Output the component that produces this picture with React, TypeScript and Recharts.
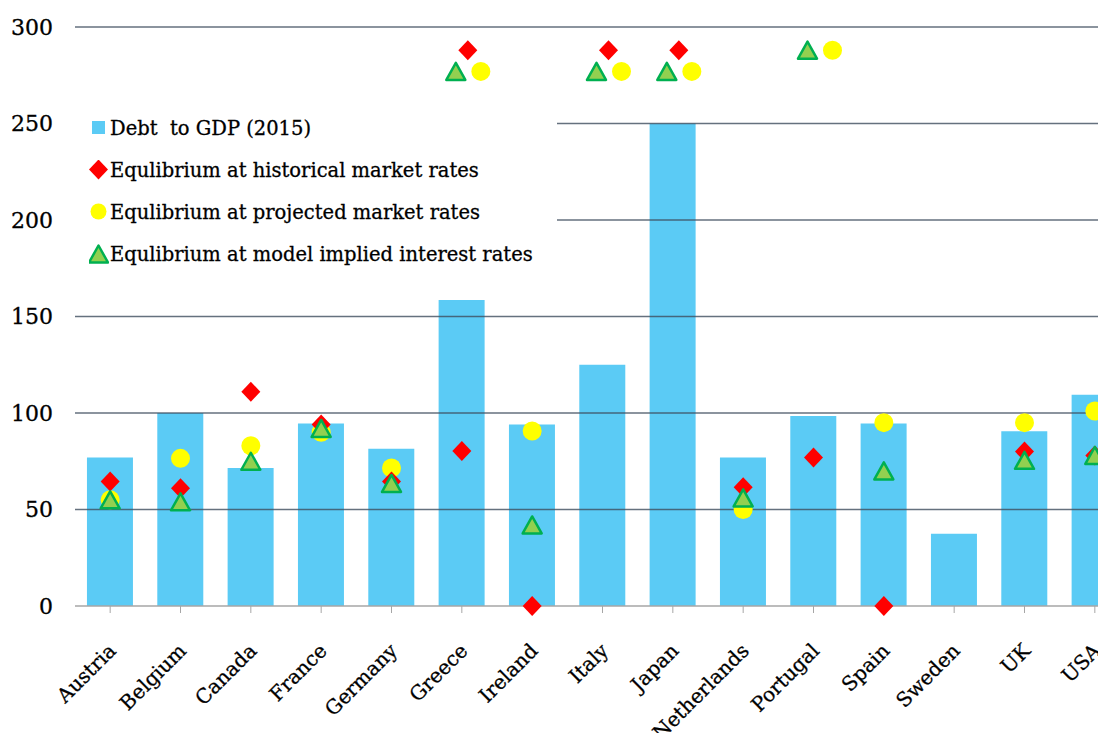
import { Bar, ComposedChart, Legend, Line, ReferenceLine, XAxis, YAxis } from "recharts";

const countries = [
  "Austria", "Belgium", "Canada", "France", "Germany", "Greece", "Ireland", "Italy",
  "Japan", "Netherlands", "Portugal", "Spain", "Sweden", "UK", "USA",
];
const debtToGdp = [77, 100, 71.5, 94.5, 81.5, 158.5, 94, 125, 250, 77, 98.5, 94.5, 37.5, 90.5, 109.5];
const historicalRates = [64.5, 61, 111, 94, 64.5, 80.3, 0, null, null, 61.5, 77, 0, null, 80, 78];
const projectedRates = [55, 76.5, 83, 90, 71.5, null, 90.7, null, null, 50, null, 95, null, 95, 101];
const modelRates = [55, 54, 75, 92, 63.5, null, 42, null, null, 56, null, 70, null, 75.5, 78];
// markers drawn above the plot for values that are off the scale
const offHistorical = [null, null, null, null, null, 288, null, 288, 288, null, null, null, null, null, null];
const offProjected = [null, null, null, null, null, 277, null, 277, 277, null, 288, null, null, null, null];
const offModel = [null, null, null, null, null, 277, null, 277, 277, null, 288, null, null, null, null];
const yTicks = [0, 50, 100, 150, 200, 250, 300];

const legendItems = [
  { key: "debt", label: "Debt  to GDP (2015)" },
  { key: "hist", label: "Equlibrium at historical market rates" },
  { key: "proj", label: "Equlibrium at projected market rates" },
  { key: "model", label: "Equlibrium at model implied interest rates" },
];

const data = countries.map((c, i) => ({
  country: c,
  debt: debtToGdp[i],
  hist: historicalRates[i],
  proj: projectedRates[i],
  model: modelRates[i],
  offHist: offHistorical[i],
  offProj: offProjected[i],
  offModel: offModel[i],
}));

const FONT = "'DejaVu Serif', serif";
const BLUE = "#5bcbf5";

function Diamond({ cx, cy }: { cx: number; cy: number }) {
  return <polygon points={`${cx},${cy - 10} ${cx + 9.5},${cy} ${cx},${cy + 10} ${cx - 9.5},${cy}`} fill="#ff0000" />;
}
function Circle({ cx, cy }: { cx: number; cy: number }) {
  return <circle cx={cx} cy={cy} r={9.5} fill="#ffff00" />;
}
function Triangle({ cx, cy }: { cx: number; cy: number }) {
  return (
    <polygon
      points={`${cx},${cy - 8.5} ${cx + 9.5},${cy + 8.5} ${cx - 9.5},${cy + 8.5}`}
      fill="#92d050"
      stroke="#00b050"
      strokeWidth={2.5}
      strokeLinejoin="round"
    />
  );
}

const makeDot = (Shape: any, dx: number) => (props: any) => {
  const { cx, cy, value, index } = props;
  if (value == null || cy == null) return <g key={index} />;
  return (
    <g key={index}>
      <Shape cx={cx + dx} cy={cy} />
    </g>
  );
};

function XTick({ x, y, payload }: any) {
  return (
    <text
      x={x + 7}
      y={y + 37}
      transform={`rotate(-45, ${x + 7}, ${y + 37})`}
      textAnchor="end"
      fontFamily={FONT}
      fontSize={20}
      fill="#000"
      stroke="#000"
      strokeWidth={0.3}
    >
      {payload.value}
    </text>
  );
}

function LegendBox() {
  const icon = (k: string) => {
    if (k === "debt") return <rect x={3} y={3} width={13} height={13} fill={BLUE} />;
    if (k === "hist") return <Diamond cx={9.5} cy={9.5} />;
    if (k === "proj") return <circle cx={9.5} cy={9.5} r={8} fill="#ffff00" />;
    return <Triangle cx={9.5} cy={10} />;
  };
  return (
    <div style={{ background: "#fff", width: 482, height: 172, paddingTop: 1, boxSizing: "border-box" }}>
      {legendItems.map((it) => (
        <div key={it.key} style={{ display: "flex", alignItems: "center", height: 42, paddingLeft: 14 }}>
          <svg width={20} height={20} style={{ marginRight: 1 }}>
            {icon(it.key)}
          </svg>
          <span
            style={{
              fontFamily: FONT,
              fontSize: 19.5,
              color: "#000",
              whiteSpace: "pre",
              WebkitTextStroke: "0.3px #000",
            }}
          >
            {it.label}
          </span>
        </div>
      ))}
    </div>
  );
}

export default function App() {
  return (
    <div style={{ width: 1098, height: 733, overflow: "hidden", position: "relative" }}>
      <style>{`body{margin:0}`}</style>
      <ComposedChart
        width={1130}
        height={733}
        data={data}
        margin={{ top: 27, right: 0, bottom: 0, left: 0 }}
        barCategoryGap="17%"
      >
        <XAxis
          dataKey="country"
          interval={0}
          height={127}
          tick={<XTick />}
          stroke="#a6a6a6"
          tickSize={7}
          tickLine={{ stroke: "#a6a6a6" }}
          axisLine={{ stroke: "#a6a6a6", strokeWidth: 1.5 }}
        />
        <YAxis
          domain={[0, 300]}
          ticks={yTicks}
          width={75}
          axisLine={false}
          tickLine={false}
          tickMargin={16}
          tick={{ fontFamily: FONT, fontSize: 22, fill: "#000", stroke: "#000", strokeWidth: 0.3 }}
        />
        <Bar dataKey="debt" fill={BLUE} isAnimationActive={false} />
        {yTicks.slice(1).map((t) => (
          <ReferenceLine key={t} y={t} stroke="#3f4d5e" strokeOpacity={0.8} strokeWidth={1.5} />
        ))}
        <Line dataKey="proj" stroke="none" dot={makeDot(Circle, 0)} activeDot={false} legendType="none" isAnimationActive={false} />
        <Line dataKey="hist" stroke="none" dot={makeDot(Diamond, 0)} activeDot={false} legendType="none" isAnimationActive={false} />
        <Line dataKey="model" stroke="none" dot={makeDot(Triangle, 0)} activeDot={false} legendType="none" isAnimationActive={false} />
        <Line dataKey="offHist" stroke="none" dot={makeDot(Diamond, 6)} activeDot={false} legendType="none" isAnimationActive={false} />
        <Line dataKey="offModel" stroke="none" dot={makeDot(Triangle, -6)} activeDot={false} legendType="none" isAnimationActive={false} />
        <Line dataKey="offProj" stroke="none" dot={makeDot(Circle, 19)} activeDot={false} legendType="none" isAnimationActive={false} />
        <Legend
          layout="horizontal"
          verticalAlign="middle"
          align="center"
          content={<LegendBox />}
          wrapperStyle={{ left: 75, top: 106, width: 482, height: 172 }}
        />
      </ComposedChart>
    </div>
  );
}
